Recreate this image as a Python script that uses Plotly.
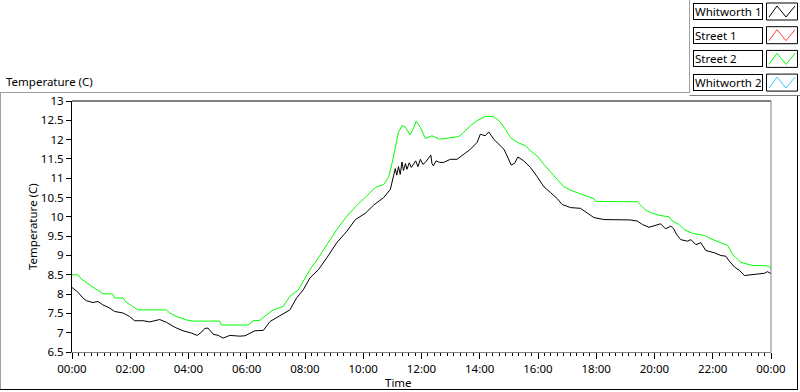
import plotly.graph_objects as go

# ---- data (hours since midnight, temperature in C) ----
series_names = ["Whitworth 1", "Street 1", "Street 2", "Whitworth 2"]
series_colors = ["#000000", "#ff3c3c", "#00ff00", "#3cc8ff"]

x_tick_hours = [0, 2, 4, 6, 8, 10, 12, 14, 16, 18, 20, 22, 24]
x_tick_labels = ["00:00", "02:00", "04:00", "06:00", "08:00", "10:00", "12:00",
                 "14:00", "16:00", "18:00", "20:00", "22:00", "00:00"]

whitworth1_t = [0.00, 0.10, 0.20, 0.35, 0.49, 0.72, 0.89, 1.06, 1.29, 1.46, 1.75, 1.98,
                2.15, 2.44, 2.67, 3.01, 3.24, 3.53, 3.81, 4.10, 4.30, 4.44, 4.56, 4.67,
                4.85, 5.02, 5.19, 5.42, 5.76, 5.94, 6.11, 6.28, 6.57, 6.80, 7.14, 7.48,
                7.71, 7.94, 8.17, 8.46, 8.75, 9.09, 9.44, 9.73, 10.07, 10.35, 10.70, 10.93,
                11.04, 11.10, 11.15, 11.21, 11.27, 11.33, 11.38, 11.45, 11.50, 11.58, 11.65,
                11.73, 11.80, 11.88, 11.96, 12.05, 12.13, 12.22, 12.32, 12.36, 12.41, 12.50,
                12.62, 12.76, 12.99, 13.22, 13.45, 13.68, 13.91, 14.02, 14.19, 14.31, 14.48,
                14.65, 14.83, 14.94, 15.08, 15.20, 15.31, 15.51, 15.74, 15.97, 16.20, 16.43,
                16.66, 16.83, 17.12, 17.46, 17.69, 17.92, 18.27, 18.73, 19.16, 19.41, 19.59,
                19.81, 20.04, 20.21, 20.38, 20.56, 20.66, 20.76, 20.90, 21.13, 21.25, 21.42,
                21.59, 21.76, 22.05, 22.28, 22.45, 22.57, 22.75, 22.92, 23.09, 23.32, 23.55,
                23.78, 23.88, 24.00]
whitworth1_v = [8.17, 8.11, 8.05, 7.92, 7.83, 7.78, 7.81, 7.72, 7.64, 7.55, 7.51, 7.42,
                7.31, 7.31, 7.28, 7.34, 7.27, 7.14, 7.05, 6.99, 6.93, 7.01, 7.11, 7.12,
                6.96, 6.93, 6.86, 6.93, 6.91, 6.92, 6.99, 7.05, 7.06, 7.29, 7.44, 7.59,
                7.90, 8.11, 8.42, 8.63, 8.94, 9.33, 9.63, 9.93, 10.09, 10.30, 10.50, 10.71,
                11.06, 11.25, 11.08, 11.30, 11.10, 11.42, 11.20, 11.38, 11.23, 11.40, 11.28,
                11.37, 11.45, 11.30, 11.49, 11.36, 11.41, 11.50, 11.60, 11.38, 11.32, 11.45,
                11.41, 11.41, 11.49, 11.49, 11.62, 11.75, 11.93, 12.14, 12.10, 12.20, 12.01,
                11.88, 11.75, 11.58, 11.34, 11.39, 11.55, 11.45, 11.28, 11.04, 10.78, 10.63,
                10.47, 10.32, 10.24, 10.22, 10.09, 9.98, 9.93, 9.93, 9.92, 9.89, 9.80,
                9.73, 9.78, 9.82, 9.69, 9.76, 9.69, 9.54, 9.41, 9.37, 9.41, 9.28,
                9.33, 9.13, 9.07, 9.00, 8.98, 8.85, 8.70, 8.61, 8.48, 8.50, 8.53,
                8.54, 8.58, 8.53]

street1_t = []
street1_v = []

street2_t = [0.00, 0.20, 0.32, 0.49, 0.66, 0.83, 1.06, 1.40, 1.46, 1.75, 1.86, 2.04,
             2.27, 3.24, 3.36, 3.58, 3.93, 4.16, 5.07, 5.13, 6.05, 6.22, 6.45, 6.68,
             6.91, 7.25, 7.48, 7.77, 7.94, 8.17, 8.46, 8.75, 9.09, 9.44, 9.78, 10.12,
             10.41, 10.70, 10.87, 10.98, 11.10, 11.21, 11.33, 11.44, 11.61, 11.73, 11.82,
             11.96, 12.13, 12.36, 12.62, 12.99, 13.28, 13.45, 13.68, 13.91, 14.19, 14.48,
             14.71, 14.88, 15.06, 15.29, 15.57, 15.74, 15.97, 16.20, 16.43, 16.66, 16.89,
             17.12, 17.40, 17.63, 17.92, 17.98, 19.41, 19.53, 19.70, 19.87, 20.16, 20.50,
             20.62, 20.85, 21.02, 21.31, 21.71, 21.94, 22.34, 22.51, 22.69, 22.97, 23.37,
             23.66, 23.95, 24.00]
street2_v = [8.50, 8.50, 8.39, 8.30, 8.20, 8.11, 8.01, 8.00, 7.90, 7.90, 7.79, 7.70,
             7.59, 7.59, 7.51, 7.42, 7.33, 7.30, 7.30, 7.20, 7.20, 7.31, 7.32, 7.46,
             7.59, 7.68, 7.94, 8.11, 8.33, 8.63, 8.94, 9.28, 9.67, 10.02, 10.30, 10.54,
             10.76, 10.84, 11.02, 11.36, 11.80, 12.19, 12.36, 12.33, 12.12, 12.30, 12.48,
             12.32, 12.03, 12.10, 12.01, 12.05, 12.08, 12.19, 12.36, 12.49, 12.60, 12.60,
             12.45, 12.27, 12.05, 11.93, 11.84, 11.71, 11.58, 11.36, 11.15, 10.97, 10.78,
             10.69, 10.61, 10.54, 10.47, 10.40, 10.39, 10.30, 10.17, 10.11, 10.04, 10.00,
             9.89, 9.80, 9.67, 9.57, 9.52, 9.43, 9.31, 9.26, 9.02, 8.82, 8.74,
             8.74, 8.72, 8.65]

whitworth2_t = []
whitworth2_v = []

# ---- figure ----
W, H = 800, 392
ML, MR, MT, MB = 72, 29, 101, 40
PW, PH = W - ML - MR, H - MT - MB
FONT = "Noto Sans, Open Sans, sans-serif"
FS = 11.5


def px(x):
    return (x - ML) / PW


def py(y):
    return (H - MB - y) / PH


fig = go.Figure()
all_series = [(whitworth1_t, whitworth1_v), (street1_t, street1_v),
              (street2_t, street2_v), (whitworth2_t, whitworth2_v)]
for name, color, (t, v) in zip(series_names, series_colors, all_series):
    fig.add_trace(go.Scatter(x=t, y=v, mode="lines", name=name,
                             line=dict(color=color, width=1), showlegend=False))

fig.update_xaxes(range=[0, 24], tickvals=x_tick_hours, ticktext=x_tick_labels,
                 ticks="outside", ticklen=6, tickcolor="black", tickwidth=1,
                 minor=dict(dtick=2 / 9, tick0=0, ticks="outside", ticklen=3,
                            tickcolor="black", showgrid=False),
                 showgrid=False, zeroline=False, automargin=False,
                 showline=True, linecolor="#808080", linewidth=1,
                 tickfont=dict(size=FS, color="black"))
fig.update_yaxes(range=[6.5, 13], dtick=0.5, tick0=6.5,
                 ticks="outside", ticklen=5, tickcolor="black", tickwidth=1,
                 showgrid=False, zeroline=False, automargin=False,
                 showline=True, linecolor="black", linewidth=1,
                 tickfont=dict(size=FS, color="black"))

shapes = []
# plot area: top black, right gray
shapes.append(dict(type="line", xref="paper", yref="paper", x0=0, x1=1, y0=1, y1=1,
                   line=dict(color="black", width=1)))
shapes.append(dict(type="line", xref="paper", yref="paper", x0=1, x1=1, y0=0, y1=1,
                   line=dict(color="#808080", width=1)))
# outer panel frame
shapes.append(dict(type="line", xref="paper", yref="paper", x0=px(0), x1=px(690),
                   y0=py(92.5), y1=py(92.5), line=dict(color="#a0a0a0", width=1)))
shapes.append(dict(type="line", xref="paper", yref="paper", x0=px(0.5), x1=px(0.5),
                   y0=py(92.5), y1=py(389.5), line=dict(color="#a0a0a0", width=1)))
shapes.append(dict(type="line", xref="paper", yref="paper", x0=px(0), x1=px(798),
                   y0=py(389.5), y1=py(389.5), line=dict(color="black", width=1)))
shapes.append(dict(type="line", xref="paper", yref="paper", x0=px(797.5), x1=px(797.5),
                   y0=py(95.5), y1=py(389.5), line=dict(color="black", width=1)))
shapes.append(dict(type="line", xref="paper", yref="paper", x0=px(689.5), x1=px(689.5),
                   y0=py(0), y1=py(92.5), line=dict(color="#a0a0a0", width=1)))
shapes.append(dict(type="line", xref="paper", yref="paper", x0=px(689.5), x1=px(800),
                   y0=py(95.5), y1=py(95.5), line=dict(color="#808080", width=1)))

annotations = []
annotations.append(dict(text="Temperature (C)", xref="paper", yref="paper",
                        x=px(4), y=py(81), xanchor="left", yanchor="middle",
                        showarrow=False, font=dict(size=FS, color="black", family=FONT)))
# axis titles
annotations.append(dict(text="Temperature (C)", xref="paper", yref="paper",
                        x=px(32), y=py(227), xanchor="center", yanchor="middle",
                        textangle=-90, showarrow=False,
                        font=dict(size=FS, color="black", family=FONT)))
annotations.append(dict(text="Time", xref="paper", yref="paper",
                        x=px(398), y=py(382), xanchor="center", yanchor="middle",
                        showarrow=False, font=dict(size=FS, color="black", family=FONT)))

# custom legend (text box + symbol box)
for i, (name, color) in enumerate(zip(series_names, series_colors)):
    top = 3 + 23.7 * i
    bot = top + 17
    mid = (top + bot) / 2
    annotations.append(dict(text=name, xref="paper", yref="paper",
                            x=px(692.5), y=py(mid), xanchor="left", yanchor="middle",
                            width=66, height=13, align="left", showarrow=False,
                            bordercolor="black", borderwidth=1, borderpad=1,
                            bgcolor="white",
                            font=dict(size=FS, color="black", family=FONT)))
    shapes.append(dict(type="rect", xref="paper", yref="paper",
                       x0=px(766.5), x1=px(797.5), y0=py(bot), y1=py(top),
                       line=dict(color="black", width=1), fillcolor="white"))
    pts = [(769, bot - 3), (777, top + 3), (786, bot - 3), (795, top + 3)]
    path = "M " + " L ".join(f"{px(a)} {py(b)}" for a, b in pts)
    shapes.append(dict(type="path", xref="paper", yref="paper", path=path,
                       line=dict(color=color, width=1)))

fig.update_layout(width=W, height=H, margin=dict(l=ML, r=MR, t=MT, b=MB, pad=0, autoexpand=False),
                  plot_bgcolor="white", paper_bgcolor="white",
                  font=dict(family=FONT, size=FS, color="black"),
                  shapes=shapes, annotations=annotations, showlegend=False)

fig.write_html("out.html", config={"displayModeBar": False},
               post_script="document.body.style.margin='0px';document.body.style.overflow='hidden';")
